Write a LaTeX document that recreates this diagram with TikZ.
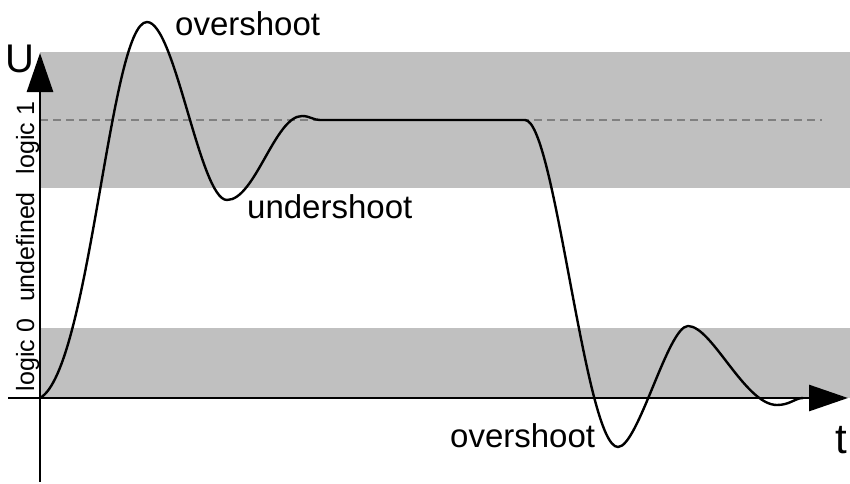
\documentclass[tikz,border=0pt]{standalone}
\usepackage{fontspec}
\setmainfont{Liberation Sans}
\usetikzlibrary{arrows.meta}
\definecolor{bandgray}{RGB}{192,192,192}
\definecolor{dashgray}{RGB}{128,128,128}
\tikzset{
  band/.style={fill=bandgray, draw=none},
  axisline/.style={line width=2.8pt, -{Triangle[length=39pt,width=26pt]}},
  signal/.style={line width=2.4pt, line join=round, line cap=round},
  refline/.style={dashgray, line width=1.5pt, dash pattern=on 8pt off 5pt},
  biglabel/.style={inner sep=0pt, font=\fontsize{33}{40}\selectfont},
  axislabel/.style={inner sep=0pt, font=\fontsize{40}{48}\selectfont},
  sidelabel/.style={inner sep=0pt, rotate=90, anchor=base, font=\fontsize{25}{30}\selectfont}
}
\begin{document}
\begin{tikzpicture}[x=1pt,y=-1pt]
\useasboundingbox (0,0) rectangle (850,483);
% bands
\fill[band] (40,52) rectangle (850,188);
\fill[band] (40,328) rectangle (850,398);
% reference level
\coordinate (dl) at (40,120);
\coordinate (dr) at (822,120);
\draw[refline] (dl) -- (dr);
% axes
\coordinate (ybot) at (40,482);
\coordinate (ytop) at (40,53);
\coordinate (xleft) at (8,398);
\coordinate (xright) at (848,398);
\draw[axisline] (ybot) -- (ytop);
\draw[axisline] (xleft) -- (xright);
% signal
\draw[signal] (40,398)
  .. controls (90,370) and (110,22) .. (147,22)
  .. controls (175,22) and (200,200) .. (227,200)
  .. controls (255,200) and (275,116) .. (302,116)
  .. controls (310,116) and (313,120) .. (320,120)
  -- (525,120)
  .. controls (555,120) and (585,447) .. (618,447)
  .. controls (638,447) and (668,326) .. (688,326)
  .. controls (712,326) and (745,405) .. (777,405)
  .. controls (790,405) and (795,398) .. (803,398);
% labels
\node[biglabel, anchor=base west] (ovtop) at (175,35) {overshoot};
\node[biglabel, anchor=base west] (under) at (247,218) {undershoot};
\node[biglabel, anchor=base west] (ovbot) at (450,447) {overshoot};
\node[axislabel, anchor=base west] (ulab) at (5,72) {U};
\node[axislabel, anchor=base west, font=\fontsize{42}{50}\selectfont] (tlab) at (835,453) {t};
\node[sidelabel] (l1) at (34,138) {logic 1};
\node[sidelabel] (und) at (34,247) {undefined};
\node[sidelabel] (l0) at (34,355) {logic 0};
\end{tikzpicture}
\end{document}
